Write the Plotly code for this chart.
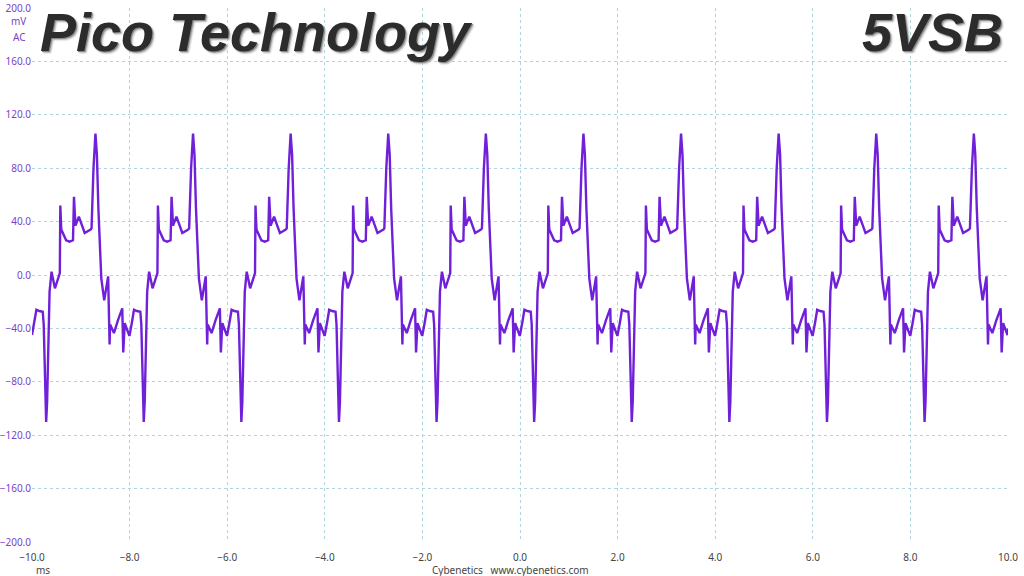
import plotly.graph_objects as go

# one 2 ms ripple cycle: offset in ms, level in mV
cycle_ms = [0.00, 0.05, 0.09, 0.15, 0.22, 0.24, 0.27, 0.29, 0.31, 0.33,
            0.36, 0.40, 0.47, 0.57, 0.58, 0.60, 0.65, 0.70, 0.77, 0.84,
            0.86, 0.89, 0.96, 1.08, 1.20, 1.22, 1.26, 1.30, 1.33, 1.36,
            1.42, 1.48, 1.56, 1.59, 1.60, 1.68, 1.76, 1.85, 1.87, 1.90, 1.99]
cycle_mv = [-45, -35, -26, -27, -27.5, -37, -80, -110, -95, -60,
            -12.5, 2.5, -10, 1.5, 52, 34, 30, 26, 25, 26,
            58.6, 37, 43.7, 31.5, 34, 35, 80, 106, 90, 50,
            -2.5, -19, -1, -52, -37, -43.5, -34, -25, -58, -36, -45]
cycle_starts = [-10.0, -8.0, -6.0, -4.0, -2.0, 0.0, 2.0, 4.0, 6.0, 8.0]
end_ms, end_mv = 10.0, -40

x_ticks = [-10, -8, -6, -4, -2, 0, 2, 4, 6, 8, 10]
y_ticks = [-200, -160, -120, -80, -40, 0, 40, 80, 120, 160, 200]

t = [s + c for s in cycle_starts for c in cycle_ms] + [end_ms]
v = [m for s in cycle_starts for m in cycle_mv] + [end_mv]

grid = '#b4d4dc'
purple = '#7b3fc8'

fig = go.Figure()
fig.add_trace(go.Scatter(x=t, y=v, mode='lines',
                         line=dict(color='#7020d8', width=2.4)))

fig.update_layout(
    width=1024, height=576,
    margin=dict(l=32, r=16, t=8, b=34),
    paper_bgcolor='white', plot_bgcolor='white',
    showlegend=False,
    font=dict(family='Noto Sans, sans-serif', size=10, color='#444'),
)
fig.update_xaxes(range=[-10, 10], tickvals=x_ticks, tickformat='.1f',
                 showgrid=True, gridcolor=grid, griddash='dot', gridwidth=1,
                 zeroline=False, showline=False, ticks='', automargin=False,
                 ticklabelstandoff=8,
                 tickfont=dict(size=10, color='#444'))
fig.update_yaxes(range=[-200, 200], tickvals=y_ticks, tickformat='.1f',
                 showgrid=True, gridcolor=grid, griddash='dot', gridwidth=1,
                 zeroline=False, showline=False, ticks='', automargin=False,
                 tickfont=dict(size=10, color=purple))

notes = [
    dict(text='mV', x=0, y=0.976, xanchor='right', font=dict(size=10, color=purple), xshift=-4),
    dict(text='AC', x=0, y=0.946, xanchor='right', font=dict(size=10, color=purple), xshift=-4),
    dict(text='ms', x=0, y=-0.052, xanchor='left', font=dict(size=10, color='#444'), xshift=2),
    dict(text='Cybenetics   www.cybenetics.com', x=0.49, y=-0.052, xanchor='center',
         font=dict(size=10, color='#444')),
]
for n in notes:
    fig.add_annotation(xref='paper', yref='paper', showarrow=False, yanchor='middle', **n)

title_font = dict(family='Liberation Sans, Arial, sans-serif', size=54, color='#2c2c2c',
                  weight='bold', style='italic',
                  shadow='1px 1px 0px #888, 2px 2px 2px #b0b0b0')
fig.add_annotation(text='Pico Technology', xref='paper', yref='paper', x=0.006, y=0.955,
                   xanchor='left', yanchor='middle', showarrow=False, font=title_font)
fig.add_annotation(text='5VSB', xref='paper', yref='paper', x=0.997, y=0.955,
                   xanchor='right', yanchor='middle', showarrow=False, font=title_font)

fig.write_html('out.html', config={'displayModeBar': False},
               post_script="document.body.style.margin='0';document.body.style.overflow='hidden';")
